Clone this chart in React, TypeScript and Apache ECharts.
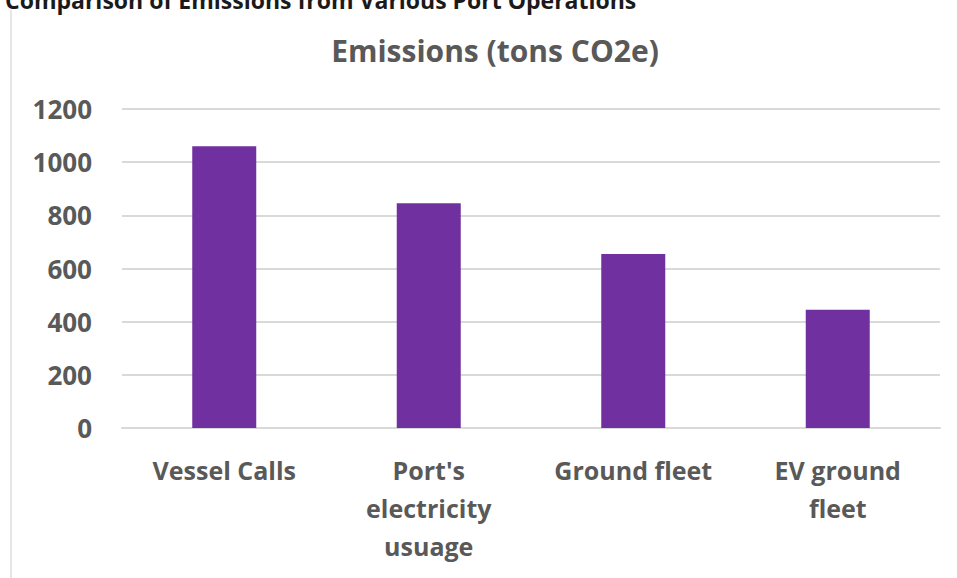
import React, { useEffect, useRef } from "react";
import * as echarts from "echarts";

const categories = ["Vessel Calls", "Port's\nelectricity\nusuage", "Ground fleet", "EV ground\nfleet"];
const emissions = [1060, 845, 655, 445];
const yTicks = [0, 200, 400, 600, 800, 1000, 1200];

const FONT = "'Open Sans', 'Noto Sans', sans-serif";

export default function App() {
  const ref = useRef<HTMLDivElement>(null);
  useEffect(() => {
    if (!ref.current) return;
    const chart = echarts.init(ref.current, null, { renderer: "svg" });
    chart.setOption({
      animation: false,
      backgroundColor: "#ffffff",
      title: [
        {
          text: "Comparison of Emissions from Various Port Operations",
          left: 0,
          top: -17,
          textStyle: { fontFamily: FONT, fontSize: 23, fontWeight: "bold", color: "#1a1a1a" },
        },
        {
          text: "Emissions (tons CO2e)",
          left: 490,
          textAlign: "center",
          top: 30,
          textStyle: { fontFamily: FONT, fontSize: 30, fontWeight: "bold", color: "#595959" },
        },
      ],
      graphic: [
        {
          type: "line",
          shape: { x1: 11, y1: 10, x2: 11, y2: 578 },
          style: { stroke: "#e6e6e6", lineWidth: 2 },
        },
      ],
      grid: { left: 122, right: 17, top: 109, bottom: 150, containLabel: false },
      xAxis: {
        type: "category",
        data: categories,
        axisLine: { show: true, lineStyle: { color: "#d9d9d9", width: 2 } },
        axisTick: { show: false },
        axisLabel: {
          interval: 0,
          margin: 23,
          fontFamily: FONT,
          fontSize: 25,
          fontWeight: "bold",
          color: "#595959",
          lineHeight: 38,
          verticalAlign: "top",
        },
      },
      yAxis: {
        type: "value",
        min: yTicks[0],
        max: yTicks[yTicks.length - 1],
        interval: 200,
        axisLine: { show: false },
        axisTick: { show: false },
        splitLine: { lineStyle: { color: "#d9d9d9", width: 2 } },
        axisLabel: {
          margin: 30,
          fontFamily: FONT,
          fontSize: 26,
          fontWeight: "bold",
          color: "#595959",
          formatter: (v: number) => String(v),
        },
      },
      series: [
        {
          type: "bar",
          data: emissions,
          barWidth: 64,
          itemStyle: { color: "#7030a0" },
        },
      ],
    });
    return () => chart.dispose();
  }, []);
  return (
    <div
      ref={ref}
      style={{ position: "fixed", left: 0, top: 0, width: 957, height: 578 }}
    />
  );
}
